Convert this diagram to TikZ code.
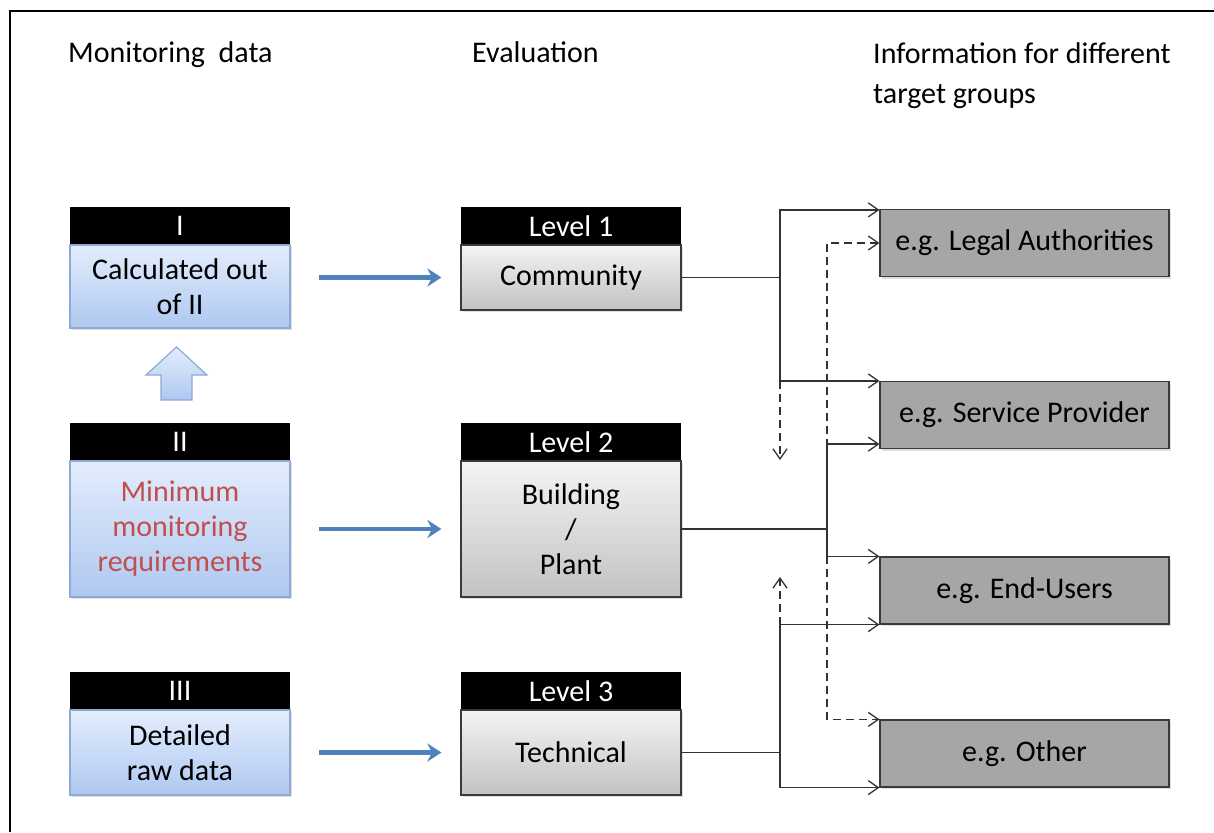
\documentclass[tikz,border=0pt]{standalone}
\usepackage{fontspec}
\setmainfont{Carlito}
\usetikzlibrary{arrows.meta,shadows}
\definecolor{bluetop}{HTML}{E3EDFC}
\definecolor{bluebot}{HTML}{AFC8F1}
\definecolor{bluedge}{HTML}{8DA9D4}
\definecolor{greytop}{HTML}{F4F4F4}
\definecolor{greybot}{HTML}{C2C2C2}
\definecolor{greyedge}{HTML}{3A3A3A}
\definecolor{targetgrey}{HTML}{A6A6A6}
\definecolor{arrowblue}{HTML}{4F81BD}
\definecolor{minred}{HTML}{C0504D}
\definecolor{linegrey}{HTML}{333333}
\begin{document}
\begin{tikzpicture}[x=1pt,y=-1pt,font=\fontsize{30}{35}\selectfont,>={Straight Barb[length=10pt,width=14pt]},
	hdr/.style={fill=black,text=white,minimum width=220pt,minimum height=37pt,inner sep=0pt,anchor=south},
	bluebody/.style={draw=bluedge,line width=1.2pt,top color=bluetop,bottom color=bluebot,minimum width=220pt,inner sep=0pt,align=center,drop shadow={opacity=0.25,shadow xshift=2pt,shadow yshift=-2pt}},
	greybody/.style={draw=greyedge,line width=1.2pt,top color=greytop,bottom color=greybot,minimum width=220pt,inner sep=0pt,align=center,drop shadow={opacity=0.25,shadow xshift=2pt,shadow yshift=-2pt}},
	target/.style={draw=greyedge,line width=1.2pt,fill=targetgrey,minimum width=289pt,minimum height=67pt,inner sep=0pt,drop shadow={opacity=0.25,shadow xshift=2pt,shadow yshift=-2pt}},
	flow/.style={draw=arrowblue,line width=4.2pt,-{Stealth[length=14pt,width=18pt]},shorten <=28pt,shorten >=19pt},
	link/.style={draw=linegrey,line width=1.3pt,->},
	dlink/.style={link,dash pattern=on 8pt off 5pt}]
	\useasboundingbox (0,0) rectangle (1214,832);
	\draw[line width=2.5pt] (10,832) -- (10,11) -- (1214,11);
	\node[anchor=base west,inner sep=0pt] (hdr1) at (68,63) {Monitoring\ \ data};
	\node[anchor=base west,inner sep=0pt] (hdr2) at (472,63) {Evaluation};
	\node[anchor=north west,inner sep=0pt,align=left,font=\fontsize{30}{40}\selectfont] (hdr3) at (873,42) {Information for different\\target groups};
	\node[bluebody,minimum height=83pt] (b1) at (180,286.5) {Calculated out\\of II};
	\node[hdr] (h1) at (b1.north) {I};
	\node[bluebody,minimum height=136pt,text=minred] (b2) at (180,529) {Minimum\\monitoring\\requirements};
	\node[hdr] (h2) at (b2.north) {II};
	\node[bluebody,minimum height=85pt] (b3) at (180,752.5) {Detailed\\raw data};
	\node[hdr] (h3) at (b3.north) {III};
	\draw[draw=bluedge,line width=1.2pt,top color=bluetop,bottom color=bluebot] (176.5,347) -- (207,375) -- (192,375) -- (192,400) -- (161,400) -- (161,375) -- (146,375) -- cycle;
	\node[greybody,minimum height=65pt] (lv1) at (571,277.5) {Community};
	\node[hdr] (l1) at (lv1.north) {Level 1};
	\node[greybody,minimum height=136pt] (lv2) at (571,529) {Building\\/\\Plant};
	\node[hdr] (l2) at (lv2.north) {Level 2};
	\node[greybody,minimum height=85pt] (lv3) at (571,752.5) {Technical};
	\node[hdr] (l3) at (lv3.north) {Level 3};
	\node[target] (leg) at (1024.5,243) {e.g. Legal Authorities};
	\node[target] (srv) at (1024.5,415) {e.g. Service Provider};
	\node[target] (end) at (1024.5,590.5) {e.g. End-Users};
	\node[target] (oth) at (1024.5,753.5) {e.g. Other};
	\draw[flow] (b1.east |- lv1.west) -- (lv1.west);
	\draw[flow] (b2.east |- lv2.west) -- (lv2.west);
	\draw[flow] (b3.east |- lv3.west) -- (lv3.west);
	\coordinate (j1) at (780,0);
	\coordinate (j2) at (827,0);
	\coordinate (d1) at (780,460);
	\coordinate (d2) at (780,577);
	\draw[link] (lv1.east) -- (lv1.east -| j1) |- ([yshift=-1pt]leg.north west);
	\draw[link] (lv1.east -| j1) |- (srv.north west);
	\draw[dlink] (srv.north west -| j1) -- (d1);
	\draw[link] (lv2.east) -- (lv2.east -| j2) |- ([yshift=5pt]srv.south west);
	\draw[link] (lv2.east -| j2) |- (end.north west);
	\draw[dlink,<->] (leg.west) -- (leg.west -| j2) -- (oth.north west -| j2) -- (oth.north west);
	\draw[link] (lv3.east) -- (lv3.east -| j1) |- (end.south west);
	\draw[link] (lv3.east -| j1) |- (oth.south west);
	\draw[dlink] (end.south west -| j1) -- (d2);
\end{tikzpicture}
\end{document}
